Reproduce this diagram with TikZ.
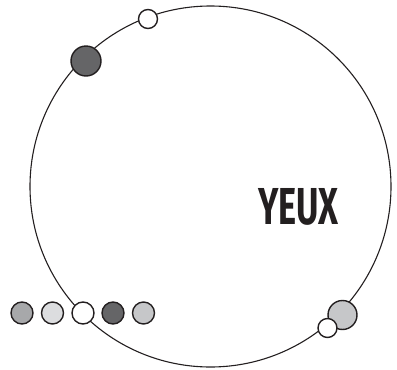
\documentclass[tikz,border=0pt]{standalone}
\usepackage{fontspec}
\setsansfont{Fira Sans}
\usepackage{xcolor}
\usetikzlibrary{positioning}
\definecolor{ink}{HTML}{231F20}
\definecolor{gDark}{HTML}{656567}
\definecolor{gMid}{HTML}{A7A8AA}
\definecolor{gLight}{HTML}{DCDDDF}
\definecolor{gPale}{HTML}{C6C7C9}
\tikzset{
  ring/.style={draw=ink,line width=1.1pt},
  bead/.style={circle,draw=ink,line width=1.4pt,inner sep=0pt,minimum size=#1},
  bead/.default=22pt,
  lbl/.style={font=\sffamily\bfseries\fontsize{52}{52}\selectfont,text=ink,
              inner sep=0pt,xscale=0.66}
}
\begin{document}
\begin{tikzpicture}[x=1pt,y=-1pt]
  \useasboundingbox (0,0) rectangle (397,370);
  % ---- main ring ----
  \node[ring,circle,minimum size=361pt,inner sep=0pt] (ring) at (210.5,186.5) {};
  % ---- beads on the ring ----
  \node[bead=19pt,fill=white] (top) at (148,19) {};
  \node[bead=30pt,fill=gDark] (dark) at (86,61) {};
  \node[bead=29pt,fill=gPale] (pale) at (342.5,315) {};
  \node[bead=19pt,fill=white] (low) at (327.5,328) {};
  % ---- row of beads ----
  \node[bead,fill=gMid] (r1) at (22,313) {};
  \node[bead,fill=gLight] (r2) at (52.5,313) {};
  \node[bead,fill=white] (r3) at (83,313) {};
  \node[bead,fill=gDark] (r4) at (113,313) {};
  \node[bead,fill=gPale] (r5) at (143.5,313) {};
  % ---- label ----
  \node[lbl] (yeux) at (298.5,206.5) {YEUX};
\end{tikzpicture}
\end{document}
